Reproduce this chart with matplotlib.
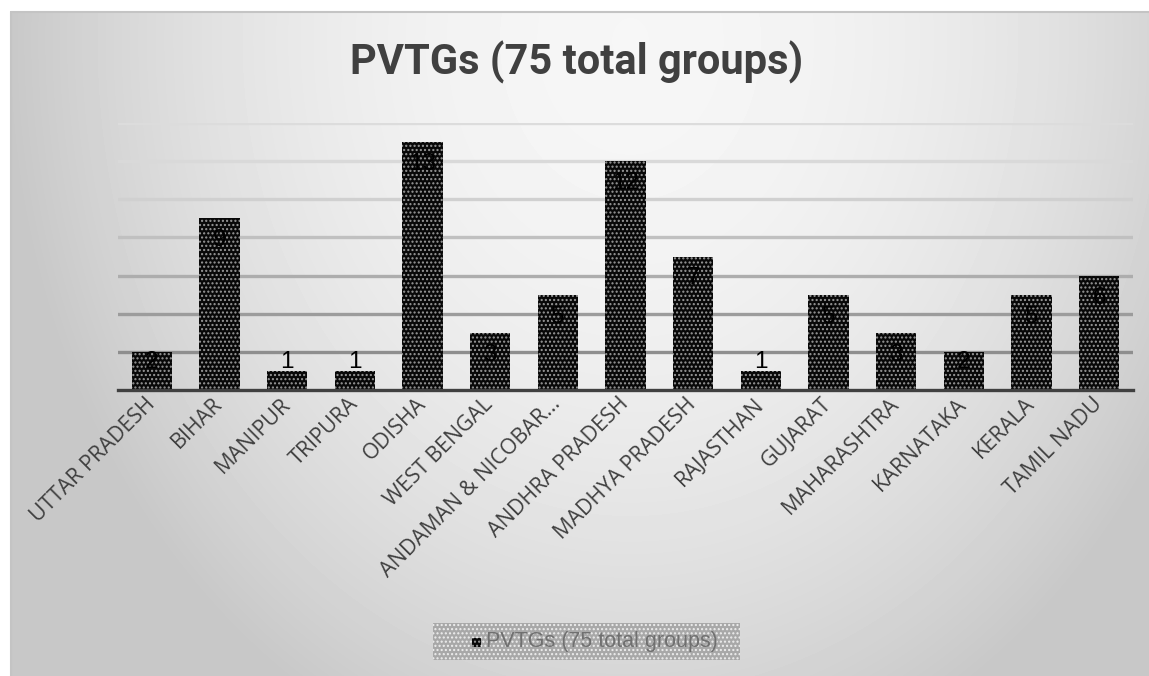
import numpy as np
import matplotlib

matplotlib.use("Agg")
import matplotlib.pyplot as plt
from matplotlib.patches import Rectangle

# chart values
states = [
    "UTTAR PRADESH", "BIHAR", "MANIPUR", "TRIPURA", "ODISHA", "WEST BENGAL",
    "ANDAMAN & NICOBAR…", "ANDHRA PRADESH", "MADHYA PRADESH", "RAJASTHAN",
    "GUJARAT", "MAHARASHTRA", "KARNATAKA", "KERALA", "TAMIL NADU",
]
pvtg_counts = [2, 9, 1, 1, 13, 3, 5, 12, 7, 1, 5, 3, 2, 5, 6]
series_name = "PVTGs (75 total groups)"
grid_levels = [2, 4, 6, 8, 10, 12, 14]

W, H = 1149, 676
fig = plt.figure(figsize=(W / 100, H / 100), dpi=100)
fig.patch.set_facecolor("white")

# background: soft grey gradient inside a thin frame
bg = fig.add_axes([0, 0, 1, 1], zorder=-10)
yy, xx = np.mgrid[0:H, 0:W]
d2 = ((xx - 630) / 620.0) ** 2 + ((yy - 40) / 760.0) ** 2
shade = 0.965 - 0.18 * np.clip(d2, 0, 1)
img = np.ones((H, W))
img[11:, 10:] = shade[11:, 10:]
bg.imshow(img, cmap="gray", vmin=0, vmax=1, extent=(0, W, H, 0), aspect="auto",
          interpolation="bilinear")
bg.plot([10.5, 10.5, W], [H, 11.5, 11.5], color="#c4c4c4", lw=1.5)
bg.set_xlim(0, W)
bg.set_ylim(H, 0)
bg.axis("off")

ax = fig.add_axes([118 / W, 1 - 390 / H, (1133 - 118) / W, (390 - 123) / H])
ax.patch.set_alpha(0)
x = np.arange(len(states))
ax.set_xlim(-0.5, len(states) - 0.5)
ax.set_ylim(0, 14)

grid_colors = ["#8e8e8e", "#9c9c9c", "#adadad", "#c0c0c0", "#d0d0d0", "#d9d9d9", "#dcdcdc"]
for lvl, c in zip(grid_levels, grid_colors):
    ax.axhline(lvl, color=c, lw=2.4, zorder=0)

ax.bar(x, pvtg_counts, width=0.6, color="#080808", edgecolor="#9a9a9a",
       hatch="....", linewidth=0, zorder=2)

for xi, v in zip(x, pvtg_counts):
    ax.text(xi, max(v - 1.15, 1.47), str(v), ha="center", va="center",
            fontsize=17.5, family="Liberation Sans", color="black", zorder=3)

for s in ["top", "right", "left"]:
    ax.spines[s].set_visible(False)
ax.spines["bottom"].set_color("#404040")
ax.spines["bottom"].set_linewidth(2.4)
ax.spines["bottom"].set_zorder(4)
ax.set_yticks([])
ax.set_xticks(x)
ax.set_xticklabels(states, rotation=45, ha="right", va="center", rotation_mode="anchor",
                   family="Open Sans", fontsize=15.5, color="#404040")
ax.tick_params(axis="x", length=0, pad=8)

fig.text(577 / W, 1 - 62 / H, series_name, ha="center", va="center",
         fontsize=30, fontweight="bold", family="Roboto", color="#404040")

# legend
lx0, ly0, lx1, ly1 = 433, 623, 740, 660
fig.add_artist(Rectangle((lx0 / W, 1 - ly1 / H), (lx1 - lx0) / W, (ly1 - ly0) / H,
                         transform=fig.transFigure, facecolor="#a8a8a8", edgecolor="#eeeeee",
                         hatch="....", linewidth=0, zorder=5))
fig.add_artist(Rectangle((472 / W, 1 - 647 / H), 9 / W, 9 / H, transform=fig.transFigure,
                         facecolor="#080808", edgecolor="#9a9a9a", hatch="....",
                         linewidth=0, zorder=6))
fig.text(486 / W, 1 - 642 / H, series_name, ha="left", va="center", fontsize=15.5,
         family="Liberation Sans", color="#707070", zorder=6)

fig.savefig("out.png", dpi=100)
